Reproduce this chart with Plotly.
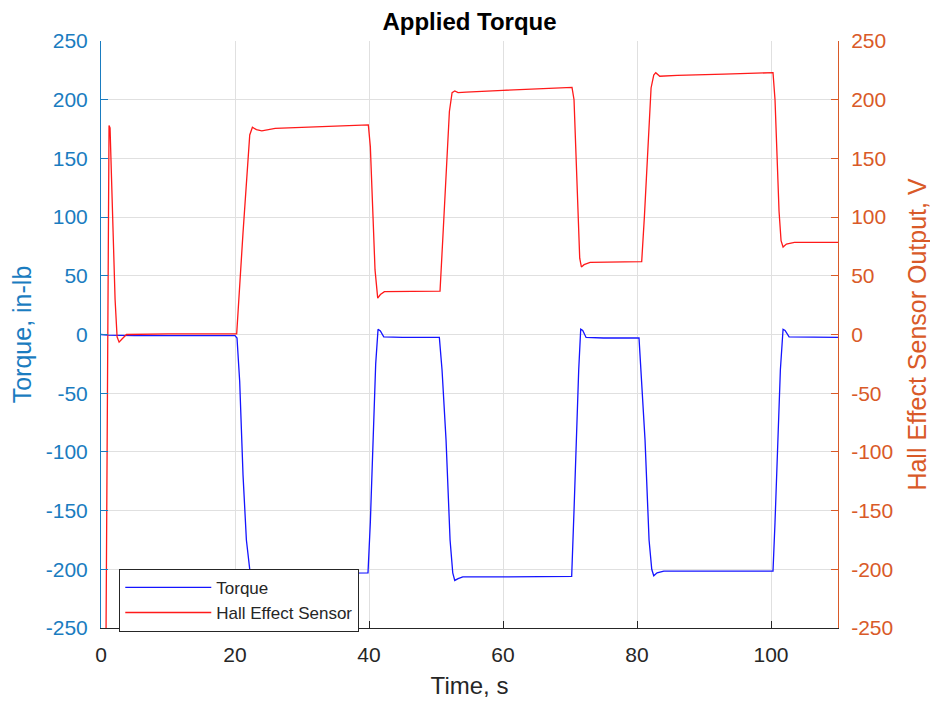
import plotly.graph_objects as go

# ---- data ----
time_torque = [0, 1, 5, 20, 20.3, 20.7, 21.2, 21.7, 22.2, 22.7, 23.3, 25, 30, 39.85,
               40.2, 40.6, 41.0, 41.35, 41.7, 42.2, 45, 50.5,
               50.9, 51.5, 52.1, 52.5, 52.8, 53.3, 54, 60, 70.25,
               70.6, 71.0, 71.3, 71.6, 71.9, 72.4, 75, 80.3,
               80.6, 81.2, 81.8, 82.2, 82.5, 83.0, 84, 90, 100.3,
               100.6, 101.0, 101.4, 101.8, 102.1, 102.7, 106, 110]
torque = [0, -0.5, -1, -1, -3, -40, -120, -175, -200, -207, -205, -204, -203.5, -203,
          -160, -90, -25, 4.5, 3, -2, -2.5, -2.5,
          -30, -90, -175, -203, -209.5, -208, -206.5, -206.5, -206,
          -150, -80, -30, 4.5, 3.5, -2.5, -3, -3,
          -30, -90, -175, -200, -205.5, -203, -201.5, -201.5, -201.5,
          -160, -95, -30, 4.5, 3.5, -2, -2.5, -2.5]

time_hall = [0.6, 1.2, 1.35, 1.7, 2.1, 2.4, 2.7, 3.1, 3.8, 10, 20.25,
             21.2, 22.2, 22.6, 23.2, 24.0, 26, 39.9,
             40.2, 40.6, 40.9, 41.3, 41.7, 42.3, 45, 50.6,
             51.0, 51.5, 52.0, 52.4, 52.8, 53.3, 54.5, 60, 65, 70.3,
             70.6, 70.9, 71.2, 71.45, 71.7, 72.1, 73, 80.7,
             81.1, 81.6, 82.1, 82.5, 82.8, 83.4, 86, 93, 100.3,
             100.6, 100.9, 101.2, 101.5, 101.8, 102.3, 103.5, 110]
hall = [-400, 178, 176, 110, 30, -2, -6.5, -4, 0, 0.5, 0.5,
        87, 170, 176.5, 174.5, 173.5, 175.5, 178.5,
        160, 100, 55, 31, 34, 36.5, 36.8, 37,
        80, 140, 190, 206, 207.5, 206, 206.5, 208, 209.2, 210.5,
        200, 150, 95, 65, 57.5, 59.5, 61.5, 62,
        100, 160, 210, 221, 223, 220, 220.8, 221.8, 223,
        200, 150, 105, 80, 74.5, 77, 78.5, 78.5]

x_ticks = [0, 20, 40, 60, 80, 100]
x_tick_labels = ["0", "20", "40", "60", "80", "100"]
y_ticks = [-250, -200, -150, -100, -50, 0, 50, 100, 150, 200, 250]
y_tick_labels = ["-250", "-200", "-150", "-100", "-50", "0", "50", "100", "150", "200", "250"]

# ---- styling ----
FONT = "Arial, 'Liberation Sans', Helvetica, sans-serif"
LEFT_C = "#1a7cc0"
RIGHT_C = "#d95a28"
DARK = "#262626"
GRID = "#e0e0e0"

fig = go.Figure()
fig.add_trace(go.Scatter(x=time_torque, y=torque, name="Torque", mode="lines",
                         line=dict(color="#1414ff", width=1.3), yaxis="y"))
fig.add_trace(go.Scatter(x=time_hall, y=hall, name="Hall Effect Sensor", mode="lines",
                         line=dict(color="#ff1a1a", width=1.3), yaxis="y2"))

# page body adds an 8px offset, so the figure is 8px smaller than the window
fig.update_layout(
    width=930, height=694,
    margin=dict(l=93, r=100, t=33, b=74, autoexpand=False),
    paper_bgcolor="white", plot_bgcolor="white",
    font=dict(family=FONT, size=21, color=DARK),
    title=dict(text="<b>Applied Torque</b>", x=0.5, xanchor="center", xref="paper",
               y=1 - 14 / 694, yanchor="middle", yref="container",
               font=dict(family=FONT, size=24, color="#000000")),
    xaxis=dict(range=[0, 110], tickvals=x_ticks, ticktext=x_tick_labels,
               ticks="inside", ticklen=7, tickcolor=DARK, tickwidth=1,
               showline=True, linecolor=DARK, linewidth=1,
               showgrid=True, gridcolor=GRID, gridwidth=1, zeroline=False,
               tickfont=dict(size=21, color=DARK), ticklabelstandoff=8, automargin=False,
               title=dict(text="Time, s", font=dict(size=24, color=DARK), standoff=11)),
    yaxis=dict(range=[-250, 250], tickvals=y_ticks, ticktext=y_tick_labels,
               ticks="inside", ticklen=7, tickcolor=LEFT_C, tickwidth=1,
               showline=True, linecolor=LEFT_C, linewidth=1,
               showgrid=True, gridcolor=GRID, gridwidth=1, zeroline=False,
               tickfont=dict(size=21, color=LEFT_C), ticklabelstandoff=8, automargin=False,
               title=dict(text="Torque, in-lb", font=dict(size=25, color=LEFT_C), standoff=13)),
    yaxis2=dict(range=[-250, 250], tickvals=y_ticks, ticktext=y_tick_labels,
                overlaying="y", side="right", anchor="x",
                ticks="inside", ticklen=7, tickcolor=RIGHT_C, tickwidth=1,
                showline=True, linecolor=RIGHT_C, linewidth=1,
                showgrid=False, zeroline=False, automargin=False,
                tickfont=dict(size=21, color=RIGHT_C), ticklabelstandoff=8,
                title=dict(text="Hall Effect Sensor Output, V", font=dict(size=25, color=RIGHT_C), standoff=16)),
    legend=dict(x=0.0248, y=0.1008, xanchor="left", yanchor="top",
                bgcolor="white", bordercolor=DARK, borderwidth=1,
                font=dict(family=FONT, size=17, color=DARK), itemwidth=86,
                tracegroupgap=0),
    showlegend=True,
)

fig.write_html("out.html")
